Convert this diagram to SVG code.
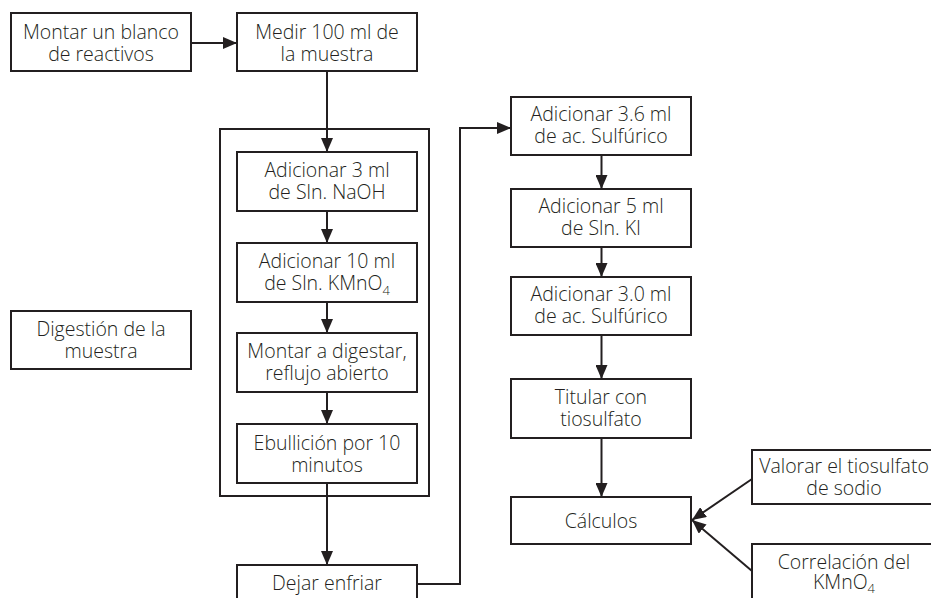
<svg xmlns="http://www.w3.org/2000/svg" width="931" height="598" viewBox="0 0 931 598">
<defs>
<style>
.box{fill:#fff;stroke:#231f20;stroke-width:2}
.frame{fill:none;stroke:#231f20;stroke-width:2}
.t{font-family:"Open Sans","Liberation Sans",sans-serif;font-weight:300;font-size:19.5px;fill:#231f20;text-anchor:middle}
.sub{font-size:13px}
.c{fill:none;stroke:#231f20;stroke-width:2}
</style>
<marker id="ah" viewBox="0 0 14 12" refX="14" refY="6" markerWidth="14" markerHeight="12" markerUnits="userSpaceOnUse" orient="auto">
<path d="M0,0 L14,6 L0,12 z" fill="#231f20"/>
</marker>
</defs>
<rect width="931" height="598" fill="#fff"/>

<g id="digestion-frame"><rect class="frame" x="220" y="129" width="209" height="367"/></g>

<g id="connectors">
<line class="c" x1="191" y1="43" x2="237" y2="43" marker-end="url(#ah)"/>
<line class="c" x1="327" y1="71" x2="327" y2="152" marker-end="url(#ah)"/>
<line class="c" x1="327" y1="211" x2="327" y2="243" marker-end="url(#ah)"/>
<line class="c" x1="327" y1="302" x2="327" y2="333" marker-end="url(#ah)"/>
<line class="c" x1="327" y1="392" x2="327" y2="424" marker-end="url(#ah)"/>
<line class="c" x1="327" y1="483" x2="327" y2="565" marker-end="url(#ah)"/>
<polyline class="c" points="417,584 460,584 460,128 511,128" marker-end="url(#ah)"/>
<line class="c" x1="601.5" y1="155" x2="601.5" y2="189" marker-end="url(#ah)"/>
<line class="c" x1="601.5" y1="247" x2="601.5" y2="277" marker-end="url(#ah)"/>
<line class="c" x1="601.5" y1="335" x2="601.5" y2="379" marker-end="url(#ah)"/>
<line class="c" x1="601.5" y1="438" x2="601.5" y2="497" marker-end="url(#ah)"/>
<line class="c" x1="752" y1="479" x2="692" y2="520" marker-end="url(#ah)"/>
<line class="c" x1="752" y1="571" x2="692" y2="520" marker-end="url(#ah)"/>
</g>

<g id="blanco"><rect class="box" x="11" y="13" width="180" height="58"/>
<text class="t" x="101" y="39">Montar un blanco</text><text class="t" x="101" y="61">de reactivos</text></g>

<g id="medir"><rect class="box" x="237" y="13" width="180" height="58"/>
<text class="t" x="327" y="39">Medir 100 ml de</text><text class="t" x="327" y="61">la muestra</text></g>

<g id="naoh"><rect class="box" x="237" y="152" width="180" height="59"/>
<text class="t" x="327" y="177">Adicionar 3 ml</text><text class="t" x="327" y="199">de Sln. NaOH</text></g>

<g id="kmno4"><rect class="box" x="237" y="243" width="180" height="59"/>
<text class="t" x="327" y="268">Adicionar 10 ml</text><text class="t" x="327" y="290">de Sln. KMnO<tspan class="sub" dy="5">4</tspan></text></g>

<g id="digestar"><rect class="box" x="237" y="333" width="180" height="59"/>
<text class="t" x="327" y="358">Montar a digestar,</text><text class="t" x="327" y="380">reflujo abierto</text></g>

<g id="ebullicion"><rect class="box" x="237" y="424" width="180" height="59"/>
<text class="t" x="327" y="450">Ebullición por 10</text><text class="t" x="327" y="472">minutos</text></g>

<g id="enfriar"><rect class="box" x="237" y="565" width="180" height="60"/>
<text class="t" x="327" y="590">Dejar enfriar</text></g>

<g id="digestion"><rect class="box" x="11" y="311" width="180" height="58"/>
<text class="t" x="101" y="336">Digestión de la</text><text class="t" x="101" y="358">muestra</text></g>

<g id="sulfurico1"><rect class="box" x="511" y="97" width="180" height="58"/>
<text class="t" x="601" y="121">Adicionar 3.6 ml</text><text class="t" x="601" y="143">de ac. Sulfúrico</text></g>

<g id="ki"><rect class="box" x="511" y="189" width="180" height="58"/>
<text class="t" x="601" y="213">Adicionar 5 ml</text><text class="t" x="601" y="235">de Sln. KI</text></g>

<g id="sulfurico2"><rect class="box" x="511" y="277" width="180" height="58"/>
<text class="t" x="601" y="301">Adicionar 3.0 ml</text><text class="t" x="601" y="323">de ac. Sulfúrico</text></g>

<g id="titular"><rect class="box" x="511" y="379" width="180" height="59"/>
<text class="t" x="601" y="404">Titular con</text><text class="t" x="601" y="426">tiosulfato</text></g>

<g id="calculos"><rect class="box" x="511" y="497" width="180" height="47"/>
<text class="t" x="601" y="528">Cálculos</text></g>

<g id="valorar"><rect class="box" x="752" y="450" width="184" height="54"/>
<text class="t" x="844" y="473">Valorar el tiosulfato</text><text class="t" x="844" y="495">de sodio</text></g>

<g id="correlacion"><rect class="box" x="752" y="544" width="184" height="60"/>
<text class="t" x="844" y="569">Correlación del</text><text class="t" x="844" y="589">KMnO<tspan class="sub" dy="4">4</tspan></text></g>
</svg>
